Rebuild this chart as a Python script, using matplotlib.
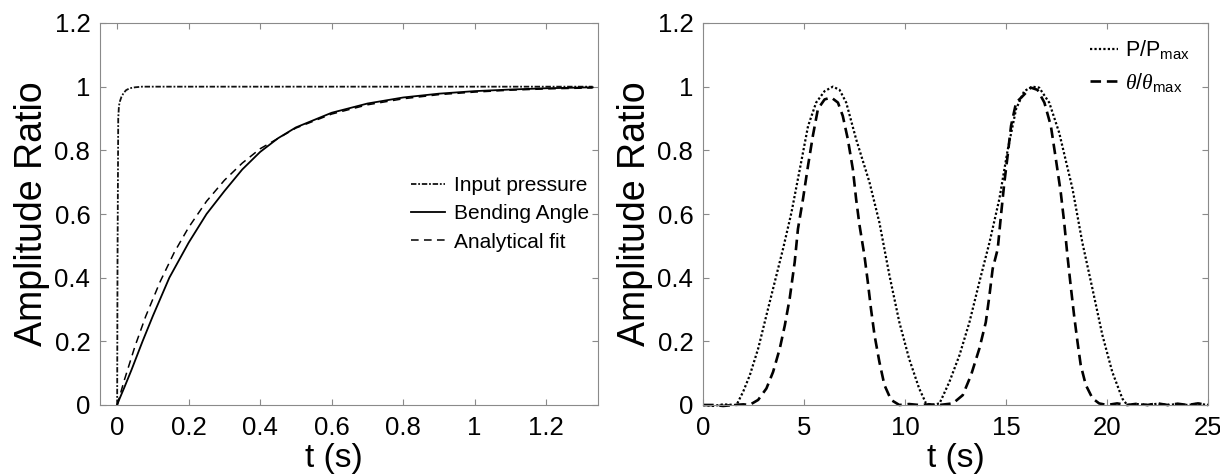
import matplotlib
matplotlib.use("Agg")
import matplotlib.pyplot as plt
from matplotlib.ticker import FuncFormatter

plt.rcParams['font.family'] = ['Liberation Sans', 'DejaVu Sans']
plt.rcParams['mathtext.fontset'] = 'custom'
plt.rcParams['mathtext.rm'] = 'Liberation Sans'
plt.rcParams['mathtext.it'] = 'Liberation Serif:italic'
plt.rcParams['mathtext.bf'] = 'Liberation Sans:bold'

# ---------------- data: left panel (step response) ----------------
t_input = [0.0, 0.001, 0.003, 0.005, 0.008, 0.012, 0.018, 0.025, 0.035, 0.05, 0.07, 0.1, 0.5, 1.0, 1.33]
input_pressure = [0.0, 0.45, 0.90, 0.94, 0.955, 0.968, 0.98, 0.989, 0.995, 0.998, 1.0, 1.0, 1.0, 1.0, 1.0]

t_bend = [0.0, 0.005, 0.02, 0.04, 0.071, 0.1, 0.146, 0.2, 0.25, 0.3, 0.35, 0.4, 0.45, 0.5,
          0.6, 0.7, 0.8, 0.9, 1.0, 1.1, 1.2, 1.33]
bending_angle = [0.0, 0.015, 0.055, 0.11, 0.2, 0.28, 0.4, 0.51, 0.6, 0.672, 0.74, 0.795, 0.838, 0.872,
                 0.918, 0.947, 0.966, 0.978, 0.986, 0.991, 0.995, 0.998]

t_fit = [0.0, 0.02, 0.05, 0.08, 0.12, 0.16, 0.2, 0.25, 0.3, 0.35, 0.4, 0.5, 0.6, 0.7, 0.8, 0.9,
         1.0, 1.1, 1.2, 1.33]
analytical_fit = [0.0, 0.078, 0.185, 0.279, 0.387, 0.48, 0.558, 0.64, 0.706, 0.76, 0.805, 0.87, 0.914,
                  0.943, 0.962, 0.975, 0.983, 0.989, 0.993, 0.996]

left_labels = ["Input pressure", "Bending Angle", "Analytical fit"]

# ---------------- data: right panel (cyclic loading) ----------------
t_p = [0, 0.5, 1.0, 1.66, 1.99, 2.32, 2.73, 3.14, 3.55, 3.96, 4.38, 4.79, 5.2, 5.6, 6.02, 6.43, 6.76,
       7.09, 7.58, 8.24, 8.73, 9.23, 9.72, 10.2, 10.7, 11.04, 11.36, 11.71, 12.2, 12.7, 13.19, 13.68,
       14.18, 14.67, 15.08, 15.5, 15.9, 16.3, 16.64, 17.14, 17.63, 18.29, 18.78, 19.28, 19.77, 20.26,
       20.76, 21.0, 21.5, 22.0, 22.5, 23.0, 23.5, 24.0, 24.5, 25.0]
p_ratio = [0.0, -0.003, 0.002, 0.0, 0.042, 0.094, 0.177, 0.282, 0.386, 0.49, 0.605, 0.74, 0.876, 0.95,
           0.986, 1.0, 0.99, 0.95, 0.835, 0.70, 0.574, 0.407, 0.26, 0.146, 0.052, 0.005, 0.0, 0.005,
           0.073, 0.157, 0.26, 0.386, 0.51, 0.647, 0.80, 0.93, 0.986, 1.0, 0.997, 0.95, 0.856, 0.68,
           0.51, 0.365, 0.22, 0.104, 0.02, 0.0, 0.003, 0.0, 0.004, 0.0, 0.003, 0.0, 0.004, 0.0]

t_theta = [0, 0.5, 1.0, 1.5, 2.0, 2.3, 2.73, 3.14, 3.47, 3.8, 4.05, 4.29, 4.54, 4.7, 4.95, 5.2, 5.44,
           5.69, 6.02, 6.35, 6.68, 6.92, 7.17, 7.42, 7.58, 7.75, 7.99, 8.16, 8.32, 8.49, 8.73, 8.98,
           9.31, 9.72, 10.2, 10.7, 11.2, 11.7, 12.37, 12.86, 13.27, 13.68, 14.0, 14.18, 14.34, 14.59,
           14.75, 14.92, 15.08, 15.25, 15.5, 15.82, 16.23, 16.56, 16.9, 17.22, 17.47, 17.71, 17.88,
           18.04, 18.2, 18.37, 18.54, 18.7, 18.95, 19.28, 19.61, 20.0, 20.5, 21.0, 21.5, 22.0, 22.5,
           23.0, 23.5, 24.0, 24.5, 25.0]
theta_ratio = [0.0, 0.0, -0.003, 0.0, 0.002, 0.0, 0.016, 0.052, 0.104, 0.177, 0.25, 0.334, 0.449,
               0.553, 0.647, 0.752, 0.846, 0.93, 0.96, 0.966, 0.95, 0.908, 0.835, 0.74, 0.647, 0.564,
               0.47, 0.386, 0.30, 0.22, 0.136, 0.063, 0.016, 0.0, 0.003, 0.0, 0.002, 0.0, 0.005, 0.031,
               0.094, 0.177, 0.26, 0.344, 0.428, 0.49, 0.595, 0.70, 0.783, 0.877, 0.95, 0.97, 0.997,
               0.99, 0.95, 0.877, 0.772, 0.668, 0.574, 0.47, 0.376, 0.282, 0.198, 0.125, 0.063, 0.021,
               0.005, 0.0, 0.005, 0.0, 0.004, 0.0, 0.005, 0.0, 0.004, 0.0, 0.005, 0.0]

right_labels = [r"P/P$_{\mathrm{max}}$", r"$\theta/\theta_{\mathrm{max}}$"]

y_ticks = [0, 0.2, 0.4, 0.6, 0.8, 1.0, 1.2]
left_x_ticks = [0, 0.2, 0.4, 0.6, 0.8, 1.0, 1.2]
right_x_ticks = [0, 5, 10, 15, 20, 25]

# ---------------- figure ----------------
fig = plt.figure(figsize=(12.2, 4.76), dpi=100)
ax1 = fig.add_axes([100 / 1220, 71 / 476, 498 / 1220, 382 / 476])
ax2 = fig.add_axes([703 / 1220, 71 / 476, 505 / 1220, 382 / 476])

fmt = FuncFormatter(lambda v, pos: f"{v:g}")
spine_gray = "#8a8a8a"

for ax in (ax1, ax2):
    for s in ax.spines.values():
        s.set_color(spine_gray)
        s.set_linewidth(0.8)
    ax.tick_params(direction="in", length=4, width=0.8, color=spine_gray, labelcolor="black",
                   top=True, right=True, labelsize=18.5)
    ax.tick_params(axis="x", pad=8)
    ax.tick_params(axis="y", pad=7)
    ax.set_ylim(0, 1.2)
    ax.set_yticks(y_ticks)
    ax.xaxis.set_major_formatter(fmt)
    ax.yaxis.set_major_formatter(fmt)
    ax.set_ylabel("Amplitude Ratio", fontsize=27, labelpad=3)
    ax.set_xlabel("t (s)", fontsize=24, labelpad=-3)

# left panel
ax1.plot(t_input, input_pressure, color="#111111", lw=1.3, linestyle=(0, (3, 1, 1, 1)),
         label=left_labels[0])
ax1.plot(t_bend, bending_angle, color="black", lw=1.3, linestyle="-", label=left_labels[1])
ax1.plot(t_fit, analytical_fit, color="black", lw=1.1, linestyle=(0, (5, 3.5)), label=left_labels[2])
ax1.set_xlim(-0.048, 1.345)
ax1.set_xticks(left_x_ticks)
ax1.xaxis.set_label_coords(0.47, -0.1)
ax1.xaxis.label.set_verticalalignment("top")
ax1.legend(loc="upper left", bbox_to_anchor=(0.625, 0.6), frameon=False, fontsize=15,
           handlelength=1.6, handletextpad=0.45, labelspacing=0.45, borderpad=0, borderaxespad=0)

# right panel
ax2.plot(t_p, p_ratio, color="black", lw=1.6, linestyle=(0, (1, 1)), label=right_labels[0],
         clip_on=False)
ax2.plot(t_theta, theta_ratio, color="black", lw=1.9, linestyle=(0, (4, 2.2)),
         label=right_labels[1], clip_on=False)
ax2.set_xlim(0, 25)
ax2.set_xticks(right_x_ticks)
ax2.xaxis.set_label_coords(0.5, -0.1)
ax2.xaxis.label.set_verticalalignment("top")
ax2.legend(loc="upper right", bbox_to_anchor=(0.965, 0.96), frameon=False, fontsize=15.5,
           handlelength=1.3, handletextpad=0.35, labelspacing=0.45, borderpad=0, borderaxespad=0)

fig.savefig("out.png", dpi=100)
